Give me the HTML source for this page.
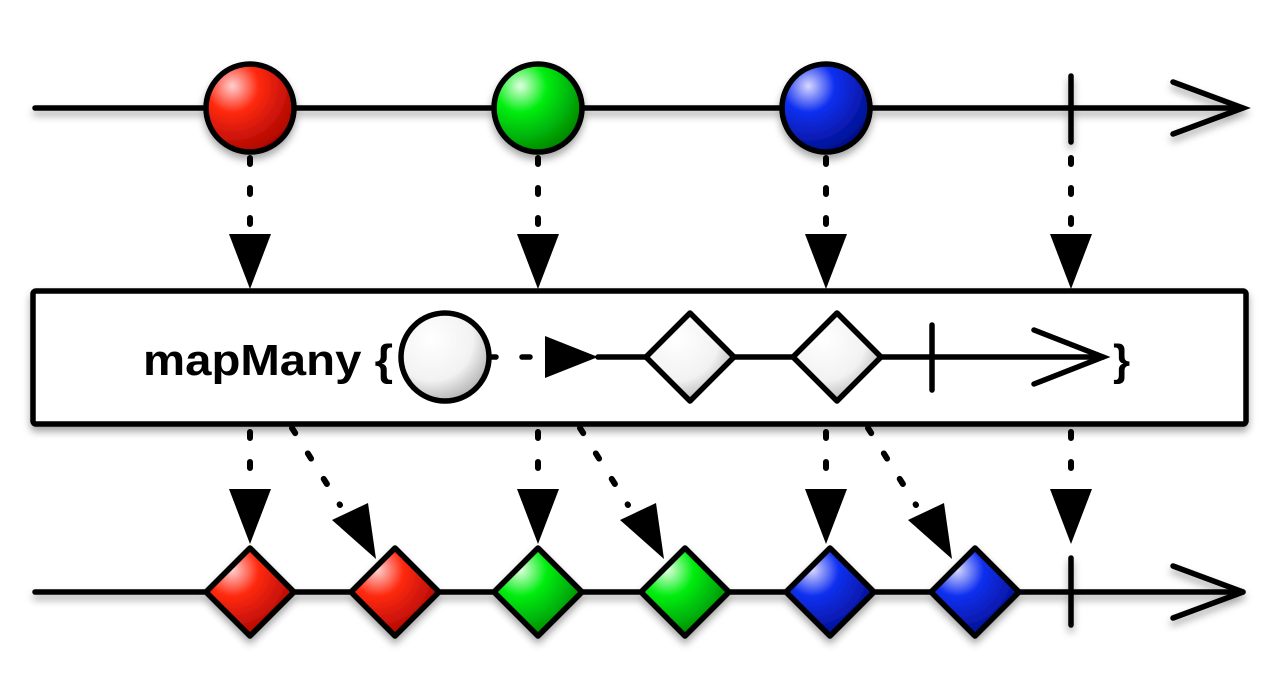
<!DOCTYPE html>
<html><head><style>html,body{margin:0;padding:0;background:#fff}svg{display:block}</style></head><body>
<svg width="1280" height="700" viewBox="0 0 1280 700" xmlns="http://www.w3.org/2000/svg">
<defs>
<radialGradient id="gr" cx="0.3" cy="0.25" r="0.85"><stop offset="0" stop-color="#ffd0d0"/><stop offset="0.35" stop-color="#ff2a10"/><stop offset="1" stop-color="#a00000"/></radialGradient>
<radialGradient id="gg" cx="0.3" cy="0.25" r="0.85"><stop offset="0" stop-color="#e0ffe0"/><stop offset="0.35" stop-color="#00ee10"/><stop offset="1" stop-color="#007a00"/></radialGradient>
<radialGradient id="gb" cx="0.3" cy="0.25" r="0.85"><stop offset="0" stop-color="#d8d8ff"/><stop offset="0.35" stop-color="#1030f0"/><stop offset="1" stop-color="#000a80"/></radialGradient>
<radialGradient id="gw" cx="0.35" cy="0.3" r="0.85"><stop offset="0" stop-color="#ffffff"/><stop offset="0.55" stop-color="#f2f2f2"/><stop offset="1" stop-color="#999"/></radialGradient>
<filter id="sh" x="-20%" y="-20%" width="140%" height="160%"><feDropShadow dx="0" dy="5" stdDeviation="4" flood-color="#000" flood-opacity="0.35"/></filter>
</defs>
<g stroke="#000" stroke-width="5.5" fill="none" stroke-linecap="round">
<g filter="url(#sh)">
<line x1="35" y1="108" x2="1243" y2="108"/>
<polyline points="1173,82 1243,108 1173,134"/>
<line x1="1071" y1="76" x2="1071" y2="142"/>
<circle cx="250" cy="108" r="44" fill="url(#gr)"/>
<circle cx="538" cy="108" r="44" fill="url(#gg)"/>
<circle cx="826" cy="108" r="44" fill="url(#gb)"/>
</g>
<g stroke-width="6" stroke-dasharray="6,24">
<line x1="250" y1="158" x2="250" y2="240"/>
<line x1="538" y1="158" x2="538" y2="240"/>
<line x1="826" y1="158" x2="826" y2="240"/>
<line x1="1071" y1="158" x2="1071" y2="240"/>
</g>
</g>
<g fill="#000">
<polygon points="229,234 271,234 250,289"/>
<polygon points="517,234 559,234 538,289"/>
<polygon points="805,234 847,234 826,289"/>
<polygon points="1050,234 1092,234 1071,289"/>
</g>
<rect x="33" y="291" width="1213" height="133" rx="3" fill="#fff" stroke="#000" stroke-width="5.5" filter="url(#sh)"/>
<text x="143" y="375" font-family="Liberation Sans, sans-serif" font-weight="bold" font-size="44" textLength="250" lengthAdjust="spacingAndGlyphs">mapMany {</text>
<text x="1113" y="375" font-family="Liberation Sans, sans-serif" font-weight="bold" font-size="44">}</text>
<g stroke="#000" stroke-width="5.5" fill="none" stroke-linecap="round">
<line x1="490" y1="357" x2="496" y2="357"/>
<line x1="522" y1="357" x2="530" y2="357"/>
<line x1="598" y1="357" x2="1103" y2="357"/>
<polyline points="1034,330 1103,357 1034,384"/>
<line x1="932" y1="325" x2="932" y2="390"/>
<circle cx="445" cy="357" r="44" fill="url(#gw)"/>
<polygon points="690,313 734,357 690,401 646,357" fill="url(#gw)" stroke-linejoin="round"/>
<polygon points="837,313 881,357 837,401 793,357" fill="url(#gw)" stroke-linejoin="round"/>
</g>
<polygon points="545,336 598,357 545,378" fill="#000"/>
<g stroke="#000" stroke-width="6" stroke-linecap="round" stroke-dasharray="6,24">
<line x1="250" y1="432" x2="250" y2="495"/>
<line x1="538" y1="432" x2="538" y2="495"/>
<line x1="826" y1="432" x2="826" y2="495"/>
<line x1="1071" y1="432" x2="1071" y2="495"/>
<line x1="292" y1="428" x2="340" y2="505"/>
<line x1="580" y1="428" x2="628" y2="505"/>
<line x1="868" y1="428" x2="916" y2="505"/>
</g>
<g fill="#000">
<polygon points="229,489 271,489 250,544"/>
<polygon points="517,489 559,489 538,544"/>
<polygon points="805,489 847,489 826,544"/>
<polygon points="1050,489 1092,489 1071,544"/>
<polygon points="332,520 368,503 376,559"/>
<polygon points="620,520 656,503 664,559"/>
<polygon points="908,520 944,503 952,559"/>
</g>
<g stroke="#000" stroke-width="5.5" fill="none" stroke-linecap="round" stroke-linejoin="round" filter="url(#sh)">
<line x1="35" y1="592" x2="1243" y2="592"/>
<polyline points="1173,566 1243,592 1173,618"/>
<line x1="1071" y1="558" x2="1071" y2="625"/>
<polygon points="250,548 294,592 250,636 206,592" fill="url(#gr)"/>
<polygon points="395,548 439,592 395,636 351,592" fill="url(#gr)"/>
<polygon points="538,548 582,592 538,636 494,592" fill="url(#gg)"/>
<polygon points="685,548 729,592 685,636 641,592" fill="url(#gg)"/>
<polygon points="830,548 874,592 830,636 786,592" fill="url(#gb)"/>
<polygon points="975,548 1019,592 975,636 931,592" fill="url(#gb)"/>
</g>
</svg>
</body></html>
